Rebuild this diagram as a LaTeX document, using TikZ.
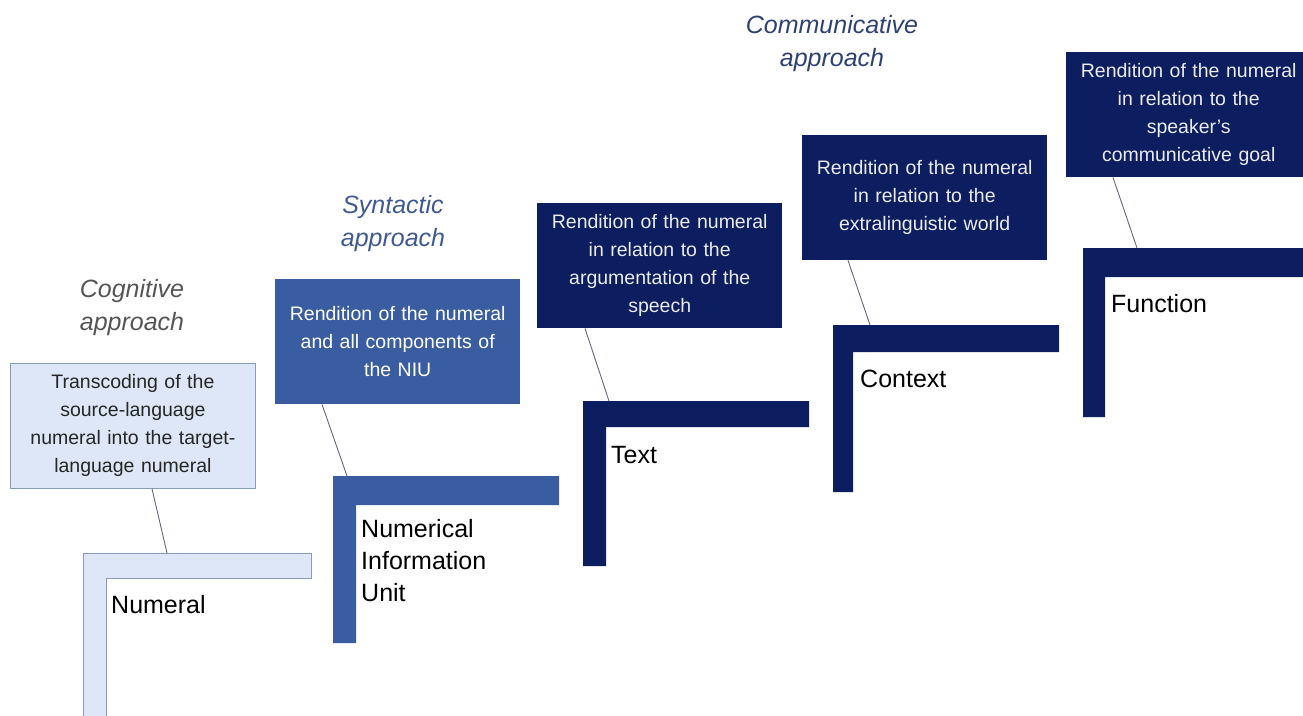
\documentclass[tikz,border=0pt]{standalone}
\usepackage{fontspec}
\setmainfont{Liberation Sans}
\definecolor{lightfill}{RGB}{221,231,247}
\definecolor{lightedge}{RGB}{135,155,190}
\definecolor{midblue}{RGB}{58,92,160}
\definecolor{navy}{RGB}{12,30,96}
\definecolor{cogcol}{RGB}{85,85,85}
\definecolor{syncol}{RGB}{62,90,145}
\definecolor{comcol}{RGB}{45,65,115}
\definecolor{linecol}{RGB}{95,105,125}
\begin{document}
\begin{tikzpicture}[x=1pt,y=-1pt,
  box/.style={anchor=north west, minimum width=245pt, minimum height=125pt,
    text width=240pt, align=center, inner sep=0pt,
    font=\fontsize{19.5}{28}\selectfont},
  lightbox/.style={box, fill=lightfill, draw=lightedge, line width=0.8pt, text=black!85},
  midbox/.style={box, fill=midblue, text=white},
  navybox/.style={box, fill=navy, text=white!92!black},
  approach/.style={align=center, inner sep=0pt, font=\fontsize{25}{33}\selectfont\itshape},
  steplabel/.style={inner sep=0pt, align=left, text=black, font=\fontsize{25}{32}\selectfont},
  conn/.style={draw=linecol, line width=0.9pt}
]
\useasboundingbox (0,0) rectangle (1303,715);
\clip (0,0) rectangle (1303,715);

% approach labels
\node[approach, text=cogcol] (cog) at (132,308) {Cognitive\\approach};
\node[approach, text=syncol] (syn) at (393,224) {Syntactic\\approach};
\node[approach, text=comcol] (com) at (832,44) {Communicative\\approach};

% steps
\path[fill=lightfill, draw=lightedge, line width=0.8pt]
  (83,553) -- (311,553) -- (311,578) -- (106,578) -- (106,725) -- (83,725) -- cycle;
\path[fill=midblue]
  (333,476) -- (559,476) -- (559,505) -- (356,505) -- (356,643) -- (333,643) -- cycle;
\path[fill=navy]
  (583,401) -- (809,401) -- (809,427) -- (606,427) -- (606,566) -- (583,566) -- cycle;
\path[fill=navy]
  (833,325) -- (1059,325) -- (1059,352) -- (853,352) -- (853,492) -- (833,492) -- cycle;
\path[fill=navy]
  (1083,248) -- (1315,248) -- (1315,277) -- (1105,277) -- (1105,417) -- (1083,417) -- cycle;

\coordinate (s1) at (167,553);
\coordinate (s2) at (347,476);
\coordinate (s3) at (609,401);
\coordinate (s4) at (870,325);
\coordinate (s5) at (1137,248);

% step labels
\node[steplabel, anchor=base west] (l1) at (111,613) {Numeral};
\node[steplabel, anchor=north west] (l2) at (361,519) {Numerical\\Information\\Unit};
\node[steplabel, anchor=base west] (l3) at (611,463) {Text};
\node[steplabel, anchor=base west] (l4) at (860,387) {Context};
\node[steplabel, anchor=base west] (l5) at (1111,312) {Function};

% boxes
\node[lightbox] (b1) at (10,363) {Transcoding of the\\source-language\\numeral into the target-\\language numeral};
\node[midbox] (b2) at (275,279) {Rendition of the numeral\\and all components of\\the NIU};
\node[navybox] (b3) at (537,203) {Rendition of the numeral\\in relation to the\\argumentation of the\\speech};
\node[navybox] (b4) at (802,135) {Rendition of the numeral\\in relation to the\\extralinguistic world};
\node[navybox] (b5) at (1066,52) {Rendition of the numeral\\in relation to the\\speaker's\\communicative goal};

% connectors
\draw[conn] ([xshift=142pt]b1.south west) -- (s1);
\draw[conn] ([xshift=47pt]b2.south west) -- (s2);
\draw[conn] ([xshift=48pt]b3.south west) -- (s3);
\draw[conn] ([xshift=46pt]b4.south west) -- (s4);
\draw[conn] ([xshift=47pt]b5.south west) -- (s5);
\end{tikzpicture}
\end{document}
